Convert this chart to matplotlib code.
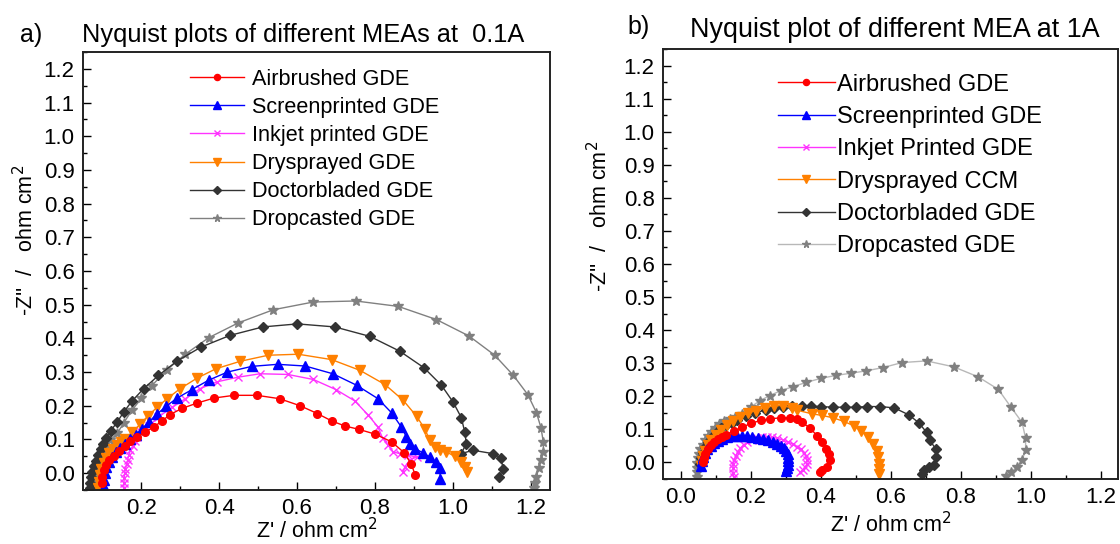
import matplotlib
matplotlib.use("Agg")
import matplotlib.pyplot as plt
from matplotlib.ticker import MultipleLocator, FormatStrFormatter

plt.rcParams['font.family'] = ['Liberation Sans', 'DejaVu Sans']

# ---------------- data: panel a) 0.1 A ----------------
series_names_a = ["Airbrushed GDE", "Screenprinted GDE", "Inkjet printed GDE",
                  "Drysprayed GDE", "Doctorbladed GDE", "Dropcasted GDE"]

air_a_x = [0.098, 0.100, 0.103, 0.108, 0.118, 0.130, 0.143, 0.157, 0.172, 0.189, 0.210, 0.232,
           0.253, 0.274, 0.304, 0.343, 0.387, 0.438, 0.497, 0.555, 0.608, 0.652, 0.689, 0.723,
           0.759, 0.800, 0.843, 0.875, 0.894, 0.903]
air_a_y = [-0.030, -0.010, 0.010, 0.025, 0.040, 0.052, 0.066, 0.080, 0.094, 0.108, 0.122, 0.137,
           0.155, 0.174, 0.192, 0.208, 0.223, 0.231, 0.231, 0.221, 0.200, 0.177, 0.155, 0.140,
           0.130, 0.116, 0.093, 0.061, 0.026, -0.004]

scr_a_x = [0.103, 0.104, 0.106, 0.110, 0.116, 0.124, 0.134, 0.145, 0.157, 0.170, 0.185, 0.202,
           0.219, 0.240, 0.264, 0.292, 0.330, 0.373, 0.421, 0.484, 0.550, 0.621, 0.692, 0.753,
           0.808, 0.843, 0.868, 0.881, 0.890, 0.903, 0.924, 0.941, 0.956, 0.967, 0.968]
scr_a_y = [-0.040, -0.020, 0.000, 0.018, 0.034, 0.048, 0.062, 0.076, 0.088, 0.100, 0.113, 0.132,
           0.152, 0.175, 0.199, 0.223, 0.248, 0.276, 0.300, 0.317, 0.323, 0.318, 0.295, 0.261,
           0.221, 0.179, 0.137, 0.108, 0.088, 0.073, 0.060, 0.048, 0.034, 0.014, -0.016]

ink_a_x = [0.155, 0.155, 0.156, 0.157, 0.159, 0.162, 0.165, 0.168, 0.172, 0.178, 0.184, 0.189,
           0.200, 0.219, 0.244, 0.279, 0.313, 0.351, 0.394, 0.449, 0.505, 0.576, 0.642, 0.700,
           0.749, 0.783, 0.808, 0.820, 0.834, 0.847, 0.864, 0.885, 0.907, 0.890, 0.877, 0.873]
ink_a_y = [-0.045, -0.030, -0.015, 0.000, 0.012, 0.026, 0.040, 0.055, 0.068, 0.082, 0.096, 0.108,
           0.122, 0.139, 0.167, 0.195, 0.221, 0.251, 0.271, 0.285, 0.295, 0.293, 0.278, 0.248,
           0.214, 0.172, 0.137, 0.103, 0.083, 0.063, 0.058, 0.053, 0.048, 0.039, 0.019, 0.004]

dry_a_x = [0.088, 0.090, 0.093, 0.097, 0.103, 0.110, 0.118, 0.127, 0.137, 0.148, 0.159, 0.176,
           0.197, 0.216, 0.240, 0.266, 0.300, 0.343, 0.392, 0.454, 0.526, 0.603, 0.689, 0.762,
           0.826, 0.873, 0.907, 0.928, 0.941, 0.954, 0.967, 0.984, 1.005, 1.022, 1.031, 1.037]
dry_a_y = [-0.045, -0.025, -0.005, 0.013, 0.030, 0.046, 0.060, 0.073, 0.085, 0.093, 0.100, 0.122,
           0.145, 0.169, 0.195, 0.221, 0.251, 0.282, 0.310, 0.332, 0.350, 0.353, 0.337, 0.305,
           0.263, 0.216, 0.169, 0.132, 0.098, 0.078, 0.068, 0.063, 0.050, 0.034, 0.019, 0.004]

doc_a_x = [0.068, 0.069, 0.071, 0.074, 0.078, 0.083, 0.089, 0.096, 0.102, 0.108, 0.121, 0.138,
           0.155, 0.176, 0.206, 0.244, 0.292, 0.353, 0.428, 0.512, 0.601, 0.697, 0.787, 0.864,
           0.926, 0.971, 1.001, 1.022, 1.031, 1.035, 1.022, 1.052, 1.103, 1.125, 1.129, 1.119]
doc_a_y = [-0.045, -0.028, -0.012, 0.003, 0.020, 0.037, 0.054, 0.071, 0.087, 0.103, 0.125, 0.152,
           0.182, 0.214, 0.251, 0.290, 0.333, 0.374, 0.409, 0.434, 0.443, 0.434, 0.406, 0.362,
           0.313, 0.261, 0.211, 0.165, 0.122, 0.088, 0.058, 0.068, 0.058, 0.045, 0.011, -0.011]

drop_a_x = [0.080, 0.080, 0.082, 0.086, 0.091, 0.097, 0.103, 0.111, 0.120, 0.138, 0.155, 0.176,
            0.200, 0.227, 0.266, 0.313, 0.373, 0.449, 0.539, 0.642, 0.751, 0.860, 0.958, 1.042,
            1.108, 1.156, 1.193, 1.215, 1.227, 1.233, 1.233, 1.227, 1.221, 1.215, 1.212, 1.210]
drop_a_y = [-0.045, -0.030, -0.012, 0.005, 0.022, 0.040, 0.058, 0.078, 0.098, 0.118, 0.150, 0.187,
            0.222, 0.260, 0.307, 0.353, 0.402, 0.446, 0.485, 0.508, 0.511, 0.495, 0.456, 0.407,
            0.350, 0.290, 0.233, 0.180, 0.134, 0.091, 0.063, 0.039, 0.014, -0.011, -0.028, -0.045]

# ---------------- data: panel b) 1 A ----------------
series_names_b = ["Airbrushed GDE", "Screenprinted GDE", "Inkjet Printed GDE",
                  "Drysprayed CCM", "Doctorbladed GDE", "Dropcasted GDE"]

air_b_x = [0.063, 0.066, 0.071, 0.078, 0.086, 0.096, 0.107, 0.118, 0.129, 0.152, 0.176, 0.200,
           0.229, 0.257, 0.286, 0.314, 0.332, 0.348, 0.371, 0.390, 0.405, 0.417, 0.424, 0.427,
           0.419, 0.405, 0.398]
air_b_y = [0.000, 0.013, 0.027, 0.040, 0.052, 0.063, 0.072, 0.078, 0.084, 0.094, 0.106, 0.118,
           0.127, 0.132, 0.135, 0.135, 0.130, 0.121, 0.103, 0.081, 0.061, 0.041, 0.026, 0.006,
           -0.014, -0.024, -0.029]

scr_b_x = [0.058, 0.060, 0.064, 0.070, 0.077, 0.086, 0.096, 0.107, 0.119, 0.132, 0.146, 0.160,
           0.175, 0.190, 0.205, 0.220, 0.235, 0.250, 0.263, 0.275, 0.287, 0.296, 0.302, 0.306,
           0.308, 0.308, 0.307, 0.305, 0.302]
scr_b_y = [-0.010, 0.005, 0.018, 0.030, 0.041, 0.051, 0.059, 0.066, 0.072, 0.076, 0.079, 0.081,
           0.081, 0.080, 0.078, 0.075, 0.071, 0.067, 0.062, 0.057, 0.051, 0.044, 0.035, 0.025,
           0.014, 0.003, -0.008, -0.018, -0.027]

ink_b_x = [0.152, 0.150, 0.150, 0.151, 0.154, 0.158, 0.164, 0.171, 0.180, 0.191, 0.204, 0.218,
           0.232, 0.247, 0.262, 0.277, 0.292, 0.306, 0.320, 0.333, 0.344, 0.353, 0.359, 0.362,
           0.361, 0.357, 0.350, 0.342]
ink_b_y = [-0.045, -0.032, -0.018, -0.005, 0.008, 0.020, 0.032, 0.043, 0.053, 0.061, 0.068, 0.073,
           0.076, 0.077, 0.076, 0.073, 0.068, 0.062, 0.056, 0.048, 0.040, 0.030, 0.019, 0.008,
           -0.004, -0.014, -0.022, -0.029]

dry_b_x = [0.058, 0.060, 0.064, 0.070, 0.078, 0.088, 0.100, 0.115, 0.132, 0.150, 0.170, 0.192,
           0.215, 0.240, 0.266, 0.292, 0.318, 0.333, 0.376, 0.405, 0.436, 0.467, 0.495, 0.517,
           0.536, 0.550, 0.560, 0.564, 0.566, 0.567, 0.567]
dry_b_y = [-0.010, 0.005, 0.020, 0.036, 0.052, 0.068, 0.084, 0.099, 0.113, 0.126, 0.138, 0.149,
           0.157, 0.165, 0.172, 0.172, 0.165, 0.158, 0.147, 0.142, 0.135, 0.124, 0.111, 0.094,
           0.076, 0.056, 0.034, 0.016, -0.004, -0.020, -0.034]

doc_b_x = [0.055, 0.058, 0.063, 0.070, 0.079, 0.090, 0.103, 0.117, 0.131, 0.146, 0.162, 0.186,
           0.214, 0.243, 0.267, 0.293, 0.319, 0.348, 0.373, 0.400, 0.436, 0.469, 0.500, 0.533,
           0.571, 0.611, 0.652, 0.681, 0.703, 0.712, 0.729, 0.729, 0.724, 0.709, 0.695, 0.690]
doc_b_y = [-0.005, 0.012, 0.029, 0.046, 0.062, 0.077, 0.091, 0.103, 0.112, 0.120, 0.127, 0.139,
           0.150, 0.159, 0.166, 0.169, 0.171, 0.171, 0.170, 0.169, 0.167, 0.167, 0.167, 0.169,
           0.169, 0.165, 0.144, 0.120, 0.091, 0.068, 0.041, 0.016, -0.009, -0.014, -0.024, -0.034]

drop_b_x = [0.048, 0.047, 0.047, 0.048, 0.050, 0.053, 0.057, 0.063, 0.070, 0.078, 0.088, 0.099,
            0.111, 0.124, 0.140, 0.157, 0.176, 0.200, 0.227, 0.255, 0.286, 0.321, 0.359, 0.400,
            0.443, 0.488, 0.531, 0.579, 0.633, 0.703, 0.781, 0.850, 0.908, 0.943, 0.976, 0.986,
            0.986, 0.976, 0.960, 0.945, 0.931]
drop_b_y = [-0.044, -0.030, -0.016, -0.002, 0.012, 0.026, 0.040, 0.054, 0.067, 0.080, 0.093, 0.105,
            0.116, 0.124, 0.131, 0.137, 0.147, 0.167, 0.187, 0.202, 0.217, 0.229, 0.242, 0.254,
            0.263, 0.270, 0.277, 0.287, 0.302, 0.307, 0.289, 0.259, 0.221, 0.169, 0.121, 0.073,
            0.038, 0.006, -0.014, -0.029, -0.041]

x_ticks_a = [0.2, 0.4, 0.6, 0.8, 1.0, 1.2]
x_ticks_b = [0.0, 0.2, 0.4, 0.6, 0.8, 1.0, 1.2]

# ---------------- styles ----------------
red, blue, pink, orange, dark, grey = "#ff0000", "#0000ff", "#ff33ff", "#ff8000", "#333333", "#808080"

fig = plt.figure(figsize=(11.2, 5.44), dpi=100)
axa = fig.add_axes([83 / 1120, 54 / 544, 467 / 1120, 438 / 544])
axb = fig.add_axes([663 / 1120, 65 / 544, 455 / 1120, 430 / 544])


def draw(ax, data, drop_line):
    (ax_x, ay), (sx, sy), (ix, iy), (dx, dy), (ox, oy), (px, py) = data
    h = {}
    h[5] = ax.plot(px, py, color=drop_line, lw=1.0, marker="*", ms=7, mfc=grey, mec=grey)[0]
    h[4] = ax.plot(ox, oy, color=dark, lw=1.0, marker="D", ms=5.5, mfc=dark, mec=dark)[0]
    h[3] = ax.plot(dx, dy, color=orange, lw=1.0, marker="v", ms=6.5, mfc=orange, mec=orange)[0]
    h[2] = ax.plot(ix, iy, color=pink, lw=1.0, marker="x", ms=5.5, mec=pink, mew=1.0)[0]
    h[1] = ax.plot(sx, sy, color=blue, lw=1.0, marker="^", ms=6.5, mfc=blue, mec=blue)[0]
    h[0] = ax.plot(ax_x, ay, color=red, lw=1.0, marker="o", ms=5.5, mfc=red, mec=red)[0]
    return [h[i] for i in range(6)]


ha = draw(axa, [(air_a_x, air_a_y), (scr_a_x, scr_a_y), (ink_a_x, ink_a_y),
                (dry_a_x, dry_a_y), (doc_a_x, doc_a_y), (drop_a_x, drop_a_y)], grey)
hb = draw(axb, [(air_b_x, air_b_y), (scr_b_x, scr_b_y), (ink_b_x, ink_b_y),
                (dry_b_x, dry_b_y), (doc_b_x, doc_b_y), (drop_b_x, drop_b_y)], "#b8b8b8")

for ax, xl, xt in [(axa, (0.05, 1.25), x_ticks_a), (axb, (-0.05, 1.25), x_ticks_b)]:
    ax.set_xlim(*xl)
    ax.set_ylim(-0.05, 1.25)
    ax.set_xticks(xt)
    ax.xaxis.set_minor_locator(MultipleLocator(0.1))
    ax.yaxis.set_minor_locator(MultipleLocator(0.05))
    ax.set_yticks([i / 10 for i in range(13)])
    ax.xaxis.set_major_formatter(FormatStrFormatter("%.1f"))
    ax.yaxis.set_major_formatter(FormatStrFormatter("%.1f"))
    ax.tick_params(which="major", direction="in", length=6, width=1.0, labelsize=16,
                   top=False, right=False, pad=6)
    ax.tick_params(which="minor", direction="in", length=3, width=1.0, top=False, right=False)
    for s in ax.spines.values():
        s.set_linewidth(1.4)
        s.set_color("#222222")
    ax.set_xlabel("Z' / ohm cm$^2$", fontsize=15.5)
    ax.set_ylabel("-Z''  /   ohm cm$^2$", fontsize=15.5)

axa.xaxis.set_label_coords(0.5, -0.064)
axb.xaxis.set_label_coords(0.5, -0.077)
axa.yaxis.set_label_coords(-0.096, 0.57)
axb.yaxis.set_label_coords(-0.112, 0.61)

axa.legend(ha, series_names_a, loc="upper left", bbox_to_anchor=(0.229, 0.962), frameon=False,
           fontsize=15.6, handlelength=2.5, handletextpad=0.37, labelspacing=0.33,
           borderaxespad=0, borderpad=0, markerscale=0.8)
axb.legend(hb, series_names_b, loc="upper left", bbox_to_anchor=(0.253, 0.943), frameon=False,
           fontsize=17, handlelength=2.4, handletextpad=0.08, labelspacing=0.44,
           borderaxespad=0, borderpad=0, markerscale=0.8)

fig.text(20 / 1120, 1 - 35 / 544, "a)", fontsize=18, va="center", ha="left")
fig.text(82 / 1120, 1 - 35 / 544, "Nyquist plots of different MEAs at  0.1A", fontsize=18.3,
         va="center", ha="left")
fig.text(627 / 1120, 1 - 27 / 544, "b)", fontsize=18, va="center", ha="left")
fig.text(690 / 1120, 1 - 30 / 544, "Nyquist plot of different MEA at 1A", fontsize=19.4,
         va="center", ha="left")

fig.savefig("out.png", dpi=100)
